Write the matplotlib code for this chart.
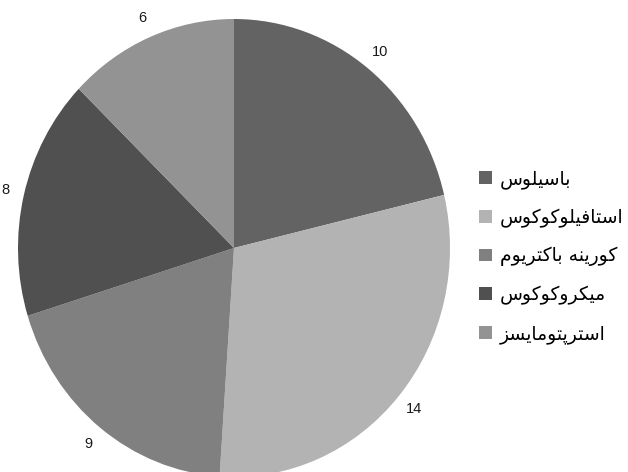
import matplotlib
matplotlib.use("Agg")
import matplotlib.pyplot as plt
from matplotlib.patches import Patch

# ---- data ----
categories = ["باسیلوس", "استافیلوکوکوس", "کورینه باکتریوم", "میکروکوکوس", "استرپتومایسز"]
values = [10, 14, 9, 8, 6]
colors = ["#636363", "#b3b3b3", "#808080", "#505050", "#939393"]

# ---- minimal Arabic/Persian shaping (matplotlib has no complex text layout) ----
FORMS = {
    "\u0627": ("\uFE8D", "\uFE8E"),
    "\u0628": ("\uFE8F", "\uFE90", "\uFE91", "\uFE92"),
    "\u062A": ("\uFE95", "\uFE96", "\uFE97", "\uFE98"),
    "\u0631": ("\uFEAD", "\uFEAE"),
    "\u0632": ("\uFEAF", "\uFEB0"),
    "\u0633": ("\uFEB1", "\uFEB2", "\uFEB3", "\uFEB4"),
    "\u0641": ("\uFED1", "\uFED2", "\uFED3", "\uFED4"),
    "\u0644": ("\uFEDD", "\uFEDE", "\uFEDF", "\uFEE0"),
    "\u0645": ("\uFEE1", "\uFEE2", "\uFEE3", "\uFEE4"),
    "\u0646": ("\uFEE5", "\uFEE6", "\uFEE7", "\uFEE8"),
    "\u0647": ("\uFEE9", "\uFEEA", "\uFEEB", "\uFEEC"),
    "\u0648": ("\uFEED", "\uFEEE"),
    "\u067E": ("\uFB56", "\uFB57", "\uFB58", "\uFB59"),
    "\u06A9": ("\uFB8E", "\uFB8F", "\uFB90", "\uFB91"),
    "\u06CC": ("\uFBFC", "\uFBFD", "\uFBFE", "\uFBFF"),
}


def shape(text):
    out = []
    n = len(text)
    for i, ch in enumerate(text):
        f = FORMS.get(ch)
        if f is None:
            out.append(ch)
            continue
        prev = text[i - 1] if i > 0 else None
        nxt = text[i + 1] if i < n - 1 else None
        jp = prev is not None and prev in FORMS and len(FORMS[prev]) == 4
        jn = nxt is not None and nxt in FORMS and len(f) == 4
        if jp and jn:
            out.append(f[3])
        elif jp:
            out.append(f[1])
        elif jn:
            out.append(f[2])
        else:
            out.append(f[0])
    return "".join(out)[::-1]


W, H = 628, 472
fig = plt.figure(figsize=(W / 100, H / 100), dpi=100)
fig.patch.set_facecolor("white")

cx, cy, rx, ry = 234, 248, 216, 229
ax = fig.add_axes([(cx - rx) / W, (H - cy - ry) / H, 2 * rx / W, 2 * ry / H])
total = sum(values)
wedges, _, autotexts = ax.pie(
    values, colors=colors, startangle=90, counterclock=False,
    autopct=lambda p: f"{p * total / 100:.0f}", pctdistance=1.09,
    wedgeprops=dict(linewidth=0),
    textprops=dict(fontsize=10.5, family=["Liberation Sans", "DejaVu Sans"], color="#1a1a1a"),
)
ax.set_aspect("auto")
ax.set_xlim(-1, 1)
ax.set_ylim(-1, 1)
ax.axis("off")

handles = [Patch(facecolor=c, edgecolor="none") for c in colors]
fig.legend(
    handles, [shape(c) for c in categories],
    loc="center left", bbox_to_anchor=(479 / W, (H - 256.5) / H),
    frameon=False, borderpad=0, borderaxespad=0,
    handlelength=0.67, handleheight=0.67, handletextpad=0.43,
    labelspacing=1.01,
    prop=dict(family="DejaVu Sans", size=13.5),
)

fig.savefig("out.png", dpi=100, facecolor="white")
